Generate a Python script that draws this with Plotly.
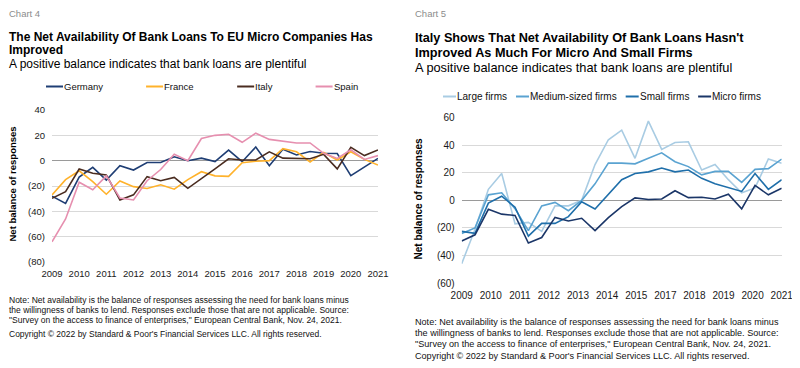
import plotly.graph_objects as go
import numpy as np

# ---------------- data ----------------
survey_waves = ["2009 H1", "2009 H2", "2010 H1", "2010 H2", "2011 H1", "2011 H2",
                "2012 H1", "2012 H2", "2013 H1", "2013 H2", "2014 H1", "2014 H2",
                "2015 H1", "2015 H2", "2016 H1", "2016 H2", "2017 H1", "2017 H2",
                "2018 H1", "2018 H2", "2019 H1", "2019 H2", "2020 H1", "2020 H2",
                "2021 H1"]

# Chart 4: net availability of bank loans to micro companies
germany = [-28, -33.7, -13, -5.3, -15.3, -4, -7.4, -1.4, -1.5, 3.1, 0, 2, -0.7, 8.4, -0.8,
           10.8, -4, 9, 4.5, 7.2, 5.8, 5.6, -11.8, -5, 1.8]
france = [-27, -15, -8, -16.5, -26.5, -16, -20.5, -22, -19, -22.5, -15, -8.7, -12, -12.4,
          -1.6, -0.5, 0, 9.5, 7, -1, 6.5, 0.5, 7, 1, -3.5]
italy = [-29.7, -24.5, -6.6, -10, -11.3, -31, -27, -12.6, -15.8, -13.2, -21.8, -14.5, -6.5,
         1.5, 0.5, 0.5, 7, 2, 2, 1.5, 5, -6.5, 10.5, 4, 8.5]
spain = [-64, -46, -17, -23, -12, -29.5, -31, -15.8, -7, 5, 0, 17.5, 20, 20.8, 14.5, 21.7,
         16.8, 15.5, 14, 14, 5.8, 1.8, 8.6, 1, 4]

# Chart 5: Italy by firm size
large_firms = [-46, -21, 8, 19.5, -17, -16, -22.5, -4, -4, 0, 26, 44, 51, 30.5, 57.5, 37,
               42, 42.5, 22, 26, 15, 5.5, 9, 30, 27]
medium_firms = [-24, -20, 4, 5.5, -6, -22, -4, -1.5, -7.5, 0, 12, 27, 27, 26.5, 30.5, 34.5,
                28, 24.5, 18.5, 21, 21, 13, 22.5, 23, 30]
small_firms = [-22.5, -24, -2, 3, -5, -26, -16.7, -16.7, -11.8, -1, -6.3, 4.5, 15, 19.5, 20.7,
               23.5, 20.7, 22, 16, 12, 9.5, 6.5, 19.5, 8, 15]
micro_firms = [-29.5, -25, -6.5, -10, -11, -31, -27, -12.4, -15, -13, -22, -12.5, -4.6, 1.8,
               0.6, 1, 7, 2, 2.3, 1, 4.5, -6.2, 10.8, 4, 8.8]

chart4_y_ticks = [-80, -60, -40, -20, 0, 20, 40]
chart5_y_ticks = [-60, -40, -20, 0, 20, 40, 60]
chart5_tick_labels = ["2009", "2010", "2011", "2012", "2013", "2014", "2015", "2017",
                      "2018", "2019", "2020", "2021"]

# ---------------- helpers ----------------
W, H = 800, 368
OFF = 8  # the page body adds an 8px margin; layout positions below are in window pixels
FONT = "Liberation Sans, Arial, Helvetica, sans-serif"


def px(x):
    return (x - OFF) / W


def py(y):
    return 1 - (y - OFF) / H


def wave_to_x(w):
    year, half = w.split()
    return int(year) + (0.5 if half == "H2" else 0.0)


def fmt(v):
    return f"({abs(v)})" if v < 0 else str(v)


xs = [wave_to_x(w) for w in survey_waves]
years = sorted({int(w.split()[0]) for w in survey_waves})

fig = go.Figure()

c4 = [("Germany", germany, "#1F3E74"), ("France", france, "#FFB22B"),
      ("Italy", italy, "#4A2C20"), ("Spain", spain, "#E68FAF")]
for name, vals, col in c4:
    fig.add_trace(go.Scatter(x=xs, y=vals, name=name, mode="lines",
                             line=dict(color=col, width=1.6), xaxis="x", yaxis="y",
                             showlegend=False))

c5 = [("Large firms", large_firms, "#A9CCE3"), ("Medium-sized firms", medium_firms, "#5AA3D1"),
      ("Small firms", small_firms, "#1F6FAA"), ("Micro firms", micro_firms, "#1B3668")]
for name, vals, col in c5:
    fig.add_trace(go.Scatter(x=xs, y=vals, name=name, mode="lines",
                             line=dict(color=col, width=1.6), xaxis="x2", yaxis="y2",
                             showlegend=False))

# domains (window-pixel based)
x4 = [px(52), px(378)]
y4 = [py(262), py(110)]
x5 = [px(461.7), px(781.7)]
y5 = [py(283), py(117.7)]
r4 = [-80, 40]
r5 = [-60, 60]
xr = [xs[0], xs[-1]]

zero4 = y4[0] + (0 - r4[0]) / (r4[1] - r4[0]) * (y4[1] - y4[0])
zero5 = y5[0] + (0 - r5[0]) / (r5[1] - r5[0]) * (y5[1] - y5[0])

chart5_tickvals = list(np.linspace(xr[0], xr[1], len(chart5_tick_labels)))

grid = "#D9D9D9"
tickfont4 = dict(family=FONT, size=9.5, color="#1a1a1a")
tickfont5 = dict(family=FONT, size=10, color="#1a1a1a")

fig.update_layout(
    width=W, height=H, autosize=False,
    margin=dict(l=0, r=0, t=0, b=0, pad=0, autoexpand=False),
    paper_bgcolor="white", plot_bgcolor="white",
    font=dict(family=FONT, color="#111"),
    showlegend=False,
    xaxis=dict(domain=x4, range=xr, anchor="y", tickvals=years, ticktext=[str(y) for y in years],
               showgrid=False, zeroline=False, showline=False, ticks="",
               tickfont=tickfont4, ticklabelstandoff=4, fixedrange=True),
    yaxis=dict(domain=y4, range=r4, anchor="x", tickvals=chart4_y_ticks,
               ticktext=[fmt(v) for v in chart4_y_ticks], gridcolor=grid, gridwidth=1,
               zeroline=True, zerolinecolor="#9A9A9A", zerolinewidth=1, showline=False,
               ticks="", tickfont=tickfont4, ticklabelstandoff=6, fixedrange=True),
    xaxis3=dict(overlaying="x", anchor="free", position=zero4, range=xr, tickvals=years,
                showticklabels=False, ticks="outside", ticklen=4, tickcolor="#9A9A9A",
                showgrid=False, zeroline=False, showline=False, fixedrange=True),
    xaxis2=dict(domain=x5, range=xr, anchor="y2", tickvals=chart5_tickvals,
                ticktext=chart5_tick_labels, showgrid=False, zeroline=False, showline=False,
                ticks="", tickfont=tickfont5, ticklabelstandoff=5, fixedrange=True),
    yaxis2=dict(domain=y5, range=r5, anchor="x2", tickvals=chart5_y_ticks,
                ticktext=[fmt(v) for v in chart5_y_ticks], gridcolor=grid, gridwidth=1,
                zeroline=True, zerolinecolor="#9A9A9A", zerolinewidth=1, showline=False,
                ticks="", tickfont=tickfont5, ticklabelstandoff=6, fixedrange=True),
    xaxis4=dict(overlaying="x2", anchor="free", position=zero5, range=xr,
                tickvals=chart5_tickvals, showticklabels=False, ticks="outside", ticklen=4,
                tickcolor="#9A9A9A", showgrid=False, zeroline=False, showline=False,
                fixedrange=True),
)

ann = []


def text(x, y, s, size, color="#111", bold=False, xanchor="left", angle=0):
    if bold:
        s = f"<b>{s}</b>"
    ann.append(dict(x=px(x), y=py(y), xref="paper", yref="paper", text=s, showarrow=False,
                    xanchor=xanchor, yanchor="middle", align="left", textangle=angle,
                    borderpad=0, font=dict(family=FONT, size=size, color=color)))


# Chart 4 text
text(8, 13.5, "Chart 4", 9.5, color="#8C8C8C")
text(8, 37, "The Net Availability Of Bank Loans To EU Micro Companies Has", 12, "#000", True)
text(8, 50.5, "Improved", 12, "#000", True)
text(8, 64.5, "A positive balance indicates that bank loans are plentiful", 12, "#000")
text(11.5, 184, "Net balance of responses", 9.5, "#000", True, xanchor="center", angle=-90)
notes4 = ["Note: Net availability is the balance of responses assessing the need for bank loans minus",
          "the willingness of banks to lend. Responses exclude those that are not applicable. Source:",
          "\"Survey on the access to finance of enterprises,\" European Central Bank, Nov. 24, 2021."]
for i, line in enumerate(notes4):
    text(8, 300 + 10 * i, line, 8.5, "#111")
text(8, 333.5, "Copyright © 2022 by Standard & Poor's Financial Services LLC. All rights reserved.", 8.5, "#111")

# Chart 5 text
text(414, 13.5, "Chart 5", 9.5, color="#8C8C8C")
text(414, 37.5, "Italy Shows That Net Availability Of Bank Loans Hasn't", 12.7, "#000", True)
text(414, 52.5, "Improved As Much For Micro And Small Firms", 12.7, "#000", True)
text(414, 67, "A positive balance indicates that bank loans are plentiful", 12.8, "#000")
text(417.5, 199, "Net balance of responses", 10, "#000", True, xanchor="center", angle=-90)
notes5 = ["Note: Net availability is the balance of responses assessing the need for bank loans minus",
          "the willingness of banks to lend. Responses exclude those that are not applicable. Source:",
          "\"Survey on the access to finance of enterprises,\" European Central Bank, Nov. 24, 2021."]
for i, line in enumerate(notes5):
    text(414, 321.7 + 11 * i, line, 9.1, "#111")
text(414, 356, "Copyright © 2022 by Standard & Poor's Financial Services LLC. All rights reserved.", 9.1, "#111")

# Legends (key line + label), laid out with a constant gap between entries
shapes = []

# approximate Arial advance widths (em) for laying out the legend keys
AW = {c: 0.556 for c in "abcdeghnopqu0123456789"}
AW.update({c: 0.5 for c in "ksvxyz"})
AW.update({"f": 0.278, "i": 0.222, "j": 0.222, "l": 0.222, "t": 0.278, "r": 0.333,
           "m": 0.833, "w": 0.722, " ": 0.278, "-": 0.333, "G": 0.778, "F": 0.611,
           "I": 0.278, "S": 0.667, "L": 0.556, "M": 0.833})


def label_width(s, size):
    return sum(AW.get(c, 0.556) for c in s) * size + 2


def legend(items, x0, y, line_len, size, gap):
    x = x0
    for name, _, col in items:
        shapes.append(dict(type="line", xref="paper", yref="paper", x0=px(x), x1=px(x + line_len),
                           y0=py(y), y1=py(y), line=dict(color=col, width=2)))
        ann.append(dict(x=px(x + line_len), y=py(y), xref="paper", yref="paper", text=name,
                        showarrow=False, xanchor="left", yanchor="middle", borderpad=0,
                        font=dict(family=FONT, size=size, color="#111")))
        x = x + line_len + label_width(name, size) + gap


legend(c4, 46, 86.5, 17, 9.5, 42)
legend(c5, 443, 96.5, 13, 10, 8)

fig.update_layout(annotations=ann, shapes=shapes)
fig.write_html("out.html")
